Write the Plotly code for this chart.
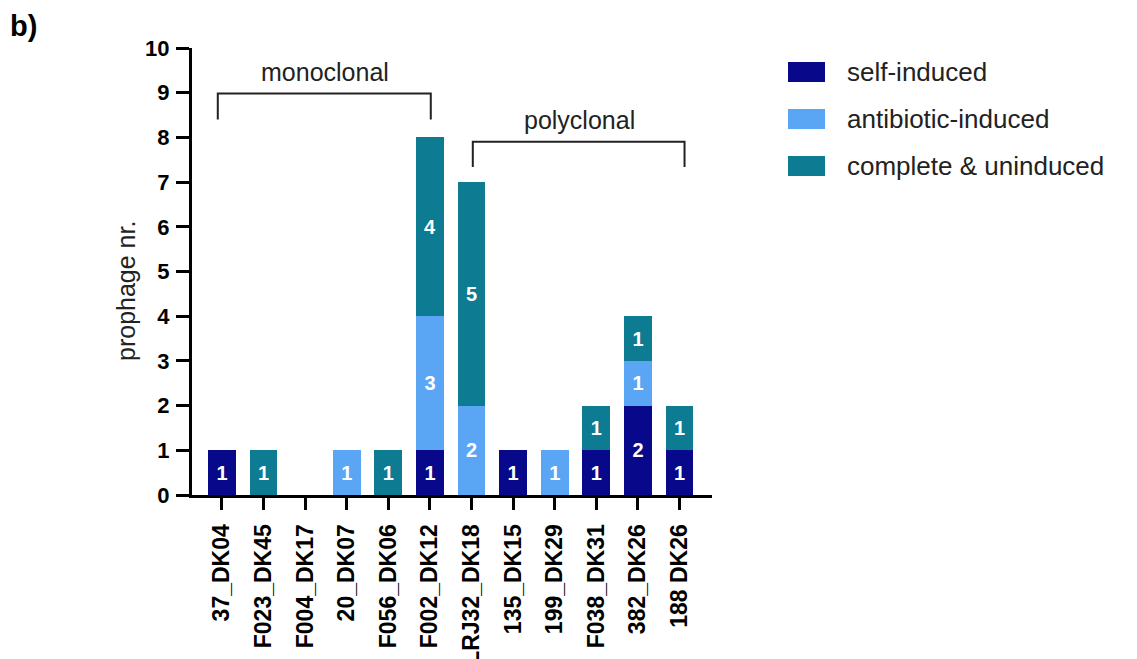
import plotly.graph_objects as go

# Strains (x categories) and prophage counts per induction class
strains = ["37_DK04", "F023_DK45", "F004_DK17", "20_DK07", "F056_DK06", "F002_DK12",
           "LRJ32_DK18", "135_DK15", "199_DK29", "F038_DK31", "382_DK26", "188 DK26"]
self_induced = [1, 0, 0, 0, 0, 1, 0, 1, 0, 1, 2, 1]
antibiotic_induced = [0, 0, 0, 1, 0, 3, 2, 0, 1, 0, 1, 0]
complete_uninduced = [0, 1, 0, 0, 1, 4, 5, 0, 0, 1, 1, 1]

series_names = ["self-induced", "antibiotic-induced", "complete & uninduced"]
series_values = [self_induced, antibiotic_induced, complete_uninduced]
series_colors = ["#08088a", "#5aa6f4", "#0d7b92"]

y_ticks = list(range(0, 11))

FONT = "Liberation Sans, Arial, sans-serif"

fig = go.Figure()
for name, vals, col in zip(series_names, series_values, series_colors):
    fig.add_trace(go.Bar(
        x=strains, y=vals, name=name,
        marker=dict(color=col, line=dict(width=0)),
        width=0.67,
        text=[str(v) if v else "" for v in vals],
        textposition="inside", insidetextanchor="middle", textangle=0,
        textfont=dict(family=FONT, size=20, color="white", weight="bold"),
        showlegend=False,
    ))

L, R, T, B = 192, 712, 48, 495
W, H = 1137, 659
pw, ph = R - L, B - T


def px_x(p):
    return (p - L) / pw


def px_y(p):
    return (B - p) / ph


fig.update_layout(
    width=W, height=H,
    margin=dict(l=L, r=W - R, t=T, b=H - B, pad=0, autoexpand=False),
    paper_bgcolor="white", plot_bgcolor="white",
    barmode="stack", bargap=0.33,
    font=dict(family=FONT, color="black"),
)

fig.update_xaxes(
    range=[-0.72, 11.78], showgrid=False, zeroline=False, automargin=False,
    showline=True, linecolor="black", linewidth=3,
    ticks="outside", ticklen=12, tickwidth=2.5, tickcolor="black",
    tickangle=-90, tickfont=dict(family=FONT, size=23, color="black", weight="bold"),
    ticklabelstandoff=5,
)
fig.update_yaxes(
    range=[0, 10], tickvals=y_ticks, showgrid=False, zeroline=False, automargin=False,
    showline=True, linecolor="black", linewidth=3,
    ticks="outside", ticklen=13, tickwidth=2.5, tickcolor="black",
    tickfont=dict(family=FONT, size=22, color="black", weight="bold"),
    ticklabelstandoff=2,
)

# Group brackets above the bars
def bracket(x0, x1, y_top, y_leg):
    fig.add_shape(type="path", xref="x", yref="y",
                  path=f"M {x0} {y_leg} L {x0} {y_top} L {x1} {y_top} L {x1} {y_leg}",
                  line=dict(color="#222222", width=2))

bracket(-0.1, 5.02, 8.98, 8.4)
bracket(6.03, 11.12, 7.9, 7.34)
fig.add_annotation(x=2.48, y=9.47, xref="x", yref="y", text="monoclonal", showarrow=False,
                   font=dict(family=FONT, size=25, color="#222222"))
fig.add_annotation(x=8.6, y=8.39, xref="x", yref="y", text="polyclonal", showarrow=False,
                   font=dict(family=FONT, size=25, color="#222222"))

# Axis title
fig.add_annotation(x=px_x(126), y=px_y(291), xref="paper", yref="paper",
                   xanchor="center", yanchor="middle",
                   text="prophage nr.", textangle=-90, showarrow=False,
                   font=dict(family=FONT, size=25, color="#222222"))

# Panel label
fig.add_annotation(x=px_x(8), y=px_y(8), xref="paper", yref="paper",
                   xanchor="left", yanchor="top", text="b)", showarrow=False,
                   font=dict(family=FONT, size=29, color="black", weight="bold"))

# Legend drawn with swatches and labels
row_centers = [72, 119, 166]
for name, col, yc in zip(series_names, series_colors, row_centers):
    fig.add_shape(type="rect", xref="paper", yref="paper",
                  x0=px_x(788), x1=px_x(825), y0=px_y(yc + 10), y1=px_y(yc - 10),
                  fillcolor=col, line=dict(width=0))
    fig.add_annotation(x=px_x(845), y=px_y(yc), xref="paper", yref="paper",
                       xanchor="left", yanchor="middle", text=name, showarrow=False,
                       font=dict(family=FONT, size=26, color="#222222"))

fig.write_html("out.html")
